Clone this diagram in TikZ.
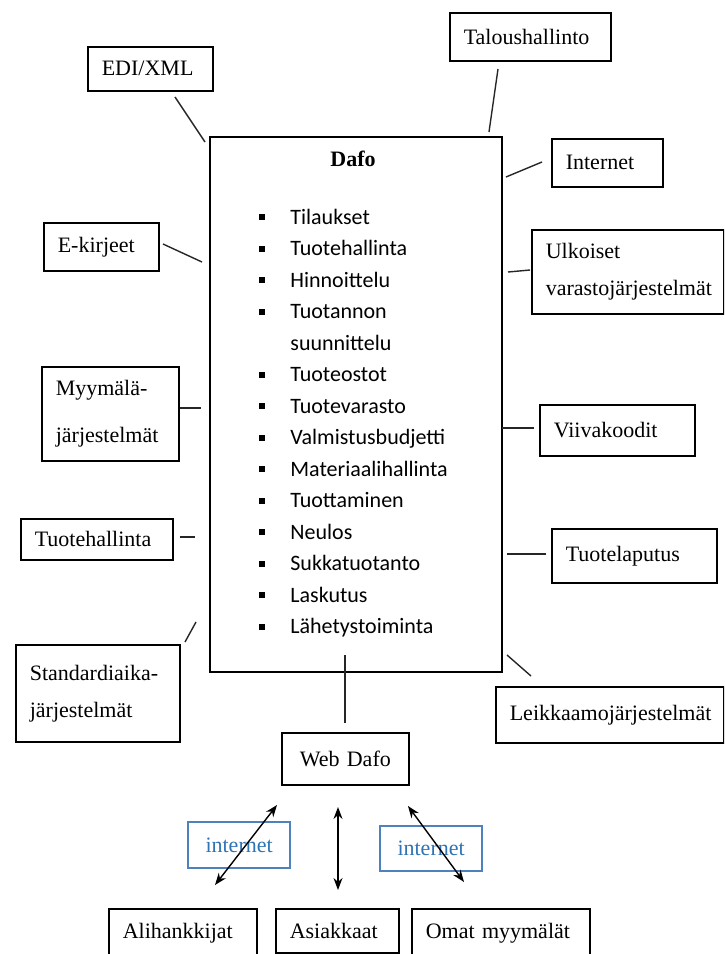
\documentclass[tikz,border=0pt]{standalone}
\usepackage{fontspec}
\setmainfont{Liberation Serif}
\newfontfamily\listfont{Carlito}
\usepackage{tikz}
\usetikzlibrary{arrows.meta}
\definecolor{NetLine}{HTML}{4F81BD}
\definecolor{NetText}{HTML}{2E74B5}
\tikzset{
  sysbox/.style={draw, line width=0.8pt, anchor=north west, align=left, inner xsep=7pt, inner ysep=0pt, font=\fontsize{11}{13}\selectfont},
  netbox/.style={draw=NetLine, line width=1.1pt, anchor=north west, inner sep=0pt, text=NetText, font=\fontsize{11}{13}\selectfont},
  link/.style={line width=0.7pt, black!85},
  flow/.style={line width=0.7pt, {Stealth[length=6pt,width=4.5pt]}-{Stealth[length=6pt,width=4.5pt]}},
  itemmark/.style={fill=black, inner sep=0pt, minimum size=3pt},
  listitem/.style={anchor=base west, inner sep=0pt, font=\listfont\fontsize{11}{13}\selectfont},
}

\begin{document}
\begin{tikzpicture}[x=0.5pt, y=-0.5pt]%
\clip (0,0) rectangle (724,954);%
% main system box
\node[draw, line width=0.9pt, anchor=north west, minimum width=146pt, minimum height=267.5pt, inner sep=0pt] (dafo) at (209,136) {};%
\node[font=\bfseries\fontsize{11}{13}\selectfont] (dafotitle) at (353,159) {Dafo};%
\node[itemmark] (m1) at (262,217) {};%
\node[listitem] (i1) at (290,224) {Tilaukset};%
\node[itemmark] (m2) at (262,248.5) {};%
\node[listitem] (i2) at (290,255.5) {Tuotehallinta};%
\node[itemmark] (m3) at (262,280) {};%
\node[listitem] (i3) at (290,287) {Hinnoittelu};%
\node[itemmark] (m4) at (262,311.5) {};%
\node[listitem] (i4) at (290,318.5) {Tuotannon};%
\node[listitem] (i4b) at (290,350) {suunnittelu};%
\node[itemmark] (m5) at (262,374.5) {};%
\node[listitem] (i5) at (290,381.5) {Tuoteostot};%
\node[itemmark] (m6) at (262,406) {};%
\node[listitem] (i6) at (290,413) {Tuotevarasto};%
\node[itemmark] (m7) at (262,437.5) {};%
\node[listitem] (i7) at (290,444.5) {Valmistusbudjetti};%
\node[itemmark] (m8) at (262,469) {};%
\node[listitem] (i8) at (290,476) {Materiaalihallinta};%
\node[itemmark] (m9) at (262,500.5) {};%
\node[listitem] (i9) at (290,507.5) {Tuottaminen};%
\node[itemmark] (m10) at (262,532) {};%
\node[listitem] (i10) at (290,539) {Neulos};%
\node[itemmark] (m11) at (262,563.5) {};%
\node[listitem] (i11) at (290,570.5) {Sukkatuotanto};%
\node[itemmark] (m12) at (262,595) {};%
\node[listitem] (i12) at (290,602) {Laskutus};%
\node[itemmark] (m13) at (262,626.5) {};%
\node[listitem] (i13) at (290,633.5) {Lähetystoiminta};%
% surrounding systems
\node[sysbox, text width=48.5pt, minimum height=22pt] (edi) at (87,46) {EDI/XML};%
\node[sysbox, text width=66.5pt, minimum height=24pt] (talous) at (449,12) {Taloushallinto};%
\node[sysbox, text width=41.5pt, minimum height=24pt] (internet) at (551,138) {Internet};%
\node[sysbox, text width=82pt, minimum height=42pt, font=\fontsize{11}{18.5}\selectfont] (ulkoiset) at (531,229) {Ulkoiset\\varastojärjestelmät};%
\node[sysbox, text width=43.5pt, minimum height=24pt] (ekirjeet) at (43,222) {E-kirjeet};%
\node[sysbox, text width=54.5pt, minimum height=47pt, font=\fontsize{11}{23.5}\selectfont] (myymala) at (41,366) {Myymälä-\\järjestelmät};%
\node[sysbox, text width=62pt, minimum height=20.5pt] (tuotehal) at (20,518) {Tuotehallinta};%
\node[sysbox, text width=63.5pt, minimum height=25.5pt] (viiva) at (539,404) {Viivakoodit};%
\node[sysbox, text width=68.5pt, minimum height=27pt] (tuotelap) at (551,528) {Tuotelaputus};%
\node[sysbox, text width=68pt, minimum height=48.5pt, font=\fontsize{11}{18.5}\selectfont] (standard) at (15,644) {Standardiaika-\\järjestelmät};%
\node[sysbox, text width=100pt, minimum height=28pt] (leikkaamo) at (495,686) {Leikkaamojärjestelmät};%
\node[sysbox, text width=49.5pt, minimum height=26pt, align=center] (webdafo) at (281,732) {Web Dafo};%
\node[sysbox, text width=60pt, minimum height=24pt] (alihank) at (108,908) {Alihankkijat};%
\node[sysbox, text width=47.5pt, minimum height=22pt] (asiakkaat) at (275,908) {Asiakkaat};%
\node[sysbox, text width=75pt, minimum height=24pt] (omat) at (411,908) {Omat myymälät};%
% internet labels
\node[netbox, minimum width=51pt, minimum height=23pt] (netleft) at (187,821) {internet};%
\node[netbox, minimum width=51pt, minimum height=22.5pt] (netright) at (379,825) {internet};%
% connector ends
\coordinate (edi-a) at (175,97);%
\coordinate (edi-b) at (205,142);%
\coordinate (tal-a) at (498,69);%
\coordinate (tal-b) at (489,132);%
\coordinate (int-a) at (542,162);%
\coordinate (int-b) at (506,177);%
\coordinate (ulk-a) at (530,270);%
\coordinate (ulk-b) at (508,272);%
\coordinate (eki-a) at (163,244);%
\coordinate (eki-b) at (202,262);%
\coordinate (myy-a) at (180,408);%
\coordinate (myy-b) at (201,408);%
\coordinate (tuo-a) at (180,537);%
\coordinate (tuo-b) at (195,537);%
\coordinate (vii-a) at (534,428);%
\coordinate (vii-b) at (502,428);%
\coordinate (lap-a) at (546,554);%
\coordinate (lap-b) at (507,554);%
\coordinate (sta-a) at (185,642);%
\coordinate (sta-b) at (196,622);%
\coordinate (lei-a) at (531,676);%
\coordinate (lei-b) at (507,655);%
\coordinate (web-a) at (345,723);%
\coordinate (web-b) at (345,655);%
\draw[link] (edi-a) -- (edi-b);%
\draw[link] (tal-a) -- (tal-b);%
\draw[link] (int-a) -- (int-b);%
\draw[link] (ulk-a) -- (ulk-b);%
\draw[link] (eki-a) -- (eki-b);%
\draw[link] (myy-a) -- (myy-b);%
\draw[link] (tuo-a) -- (tuo-b);%
\draw[link] (vii-a) -- (vii-b);%
\draw[link] (lap-a) -- (lap-b);%
\draw[link] (sta-a) -- (sta-b);%
\draw[link] (lei-a) -- (lei-b);%
\draw[link] (web-a) -- (web-b);%
% web links
\coordinate (ali-a) at (277,805);%
\coordinate (ali-b) at (215,885);%
\coordinate (asi-a) at (338,807);%
\coordinate (asi-b) at (338,890);%
\coordinate (oma-a) at (408,806);%
\coordinate (oma-b) at (464,882);%
\draw[flow] (ali-a) -- (ali-b);%
\draw[flow] (asi-a) -- (asi-b);%
\draw[flow] (oma-a) -- (oma-b);%
\end{tikzpicture}
\end{document}
